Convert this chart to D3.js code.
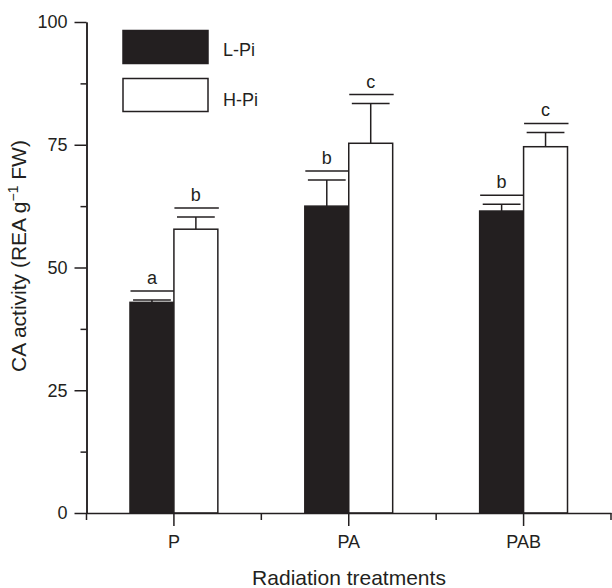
<!DOCTYPE html>
<html>
<head>
<meta charset="utf-8">
<script src="https://cdn.jsdelivr.net/npm/d3@7"></script>
<style>
  body { margin: 0; background: #fff; }
  svg text { font-family: "Liberation Sans", Arial, Helvetica, sans-serif; fill: #231f20; }
  .axis path, .axis line { stroke: #231f20; stroke-width: 1.5px; }
</style>
</head>
<body>
<svg width="612" height="588"></svg>
<script>
// values
var categories = ['P', 'PA', 'PAB'];
var series = ['L-Pi', 'H-Pi'];
var lowPi = [42.9, 62.5, 61.5];
var highPi = [57.8, 75.3, 74.6];
var lowPiErr = [0.5, 5.3, 1.4];
var highPiErr = [2.5, 8.1, 2.9];
var lowPiLetters = ['a', 'b', 'b'];
var highPiLetters = ['b', 'c', 'c'];
var yTicks = [0, 25, 50, 75, 100];
var yMinorTicks = [12.5, 37.5, 62.5, 87.5];

var svg = d3.select('svg');
var ink = '#231f20';

var xScale = d3.scaleBand()
  .domain(categories)
  .range([86.5, 611])
  .padding(0);
var subScale = d3.scaleBand()
  .domain(series)
  .range([0, xScale.bandwidth()])
  .paddingInner(0)
  .paddingOuter(0.99);
var yScale = d3.scaleLinear()
  .domain([0, 100])
  .range([513, 22]);

// rows for the bars
var rows = [];
for (var i = 0; i < categories.length; i++) {
  rows.push({cat: categories[i], key: 'L-Pi', value: lowPi[i], err: lowPiErr[i], letter: lowPiLetters[i]});
  rows.push({cat: categories[i], key: 'H-Pi', value: highPi[i], err: highPiErr[i], letter: highPiLetters[i]});
}

function barX(d) {
  return xScale(d.cat) + subScale(d.key);
}
function barMid(d) {
  return barX(d) + subScale.bandwidth() / 2;
}

var chart = svg.append('g');

// error bars first so the bars sit on top of the stem
var bw = subScale.bandwidth();
chart.selectAll('.stem')
  .data(rows)
  .enter()
  .append('line')
  .attr('x1', barMid)
  .attr('x2', barMid)
  .attr('y1', function(d) { return yScale(d.value); })
  .attr('y2', function(d) { return yScale(d.value + d.err); })
  .style('stroke', ink)
  .style('stroke-width', 1.5);
chart.selectAll('.cap')
  .data(rows)
  .enter()
  .append('line')
  .attr('x1', function(d) { return barMid(d) - bw * 0.43; })
  .attr('x2', function(d) { return barMid(d) + bw * 0.43; })
  .attr('y1', function(d) { return yScale(d.value + d.err); })
  .attr('y2', function(d) { return yScale(d.value + d.err); })
  .style('stroke', ink)
  .style('stroke-width', 1.5);

// significance line + letter
chart.selectAll('.sig')
  .data(rows)
  .enter()
  .append('line')
  .attr('x1', function(d) { return barX(d) + 0.5; })
  .attr('x2', function(d) { return barX(d) + bw + 1; })
  .attr('y1', function(d) { return yScale(d.value + d.err) - 9; })
  .attr('y2', function(d) { return yScale(d.value + d.err) - 9; })
  .style('stroke', ink)
  .style('stroke-width', 1.5);
chart.selectAll('.letter')
  .data(rows)
  .enter()
  .append('text')
  .attr('x', barMid)
  .attr('y', function(d) { return yScale(d.value + d.err) - 16; })
  .attr('text-anchor', 'middle')
  .style('font-size', '18px')
  .text(function(d) { return d.letter; });

chart.selectAll('.bar')
  .data(rows)
  .enter()
  .append('rect')
  .attr('x', barX)
  .attr('y', function(d) { return yScale(d.value); })
  .attr('width', bw)
  .attr('height', function(d) { return yScale(0) - yScale(d.value); })
  .attr('fill', function(d) { return d.key == 'L-Pi' ? ink : '#fff'; })
  .style('stroke', ink)
  .style('stroke-width', 1.5);

// y axis, major + minor ticks
var yAxis = d3.axisLeft(yScale).tickValues(yTicks).tickSize(12).tickPadding(7).tickSizeOuter(0);
var yMinor = d3.axisLeft(yScale).tickValues(yMinorTicks).tickSize(6).tickFormat('').tickSizeOuter(0);
var ya = svg.append('g').attr('class', 'axis')
  .attr('transform', 'translate(86.5,0)')
  .call(yAxis);
svg.append('g').attr('class', 'axis')
  .attr('transform', 'translate(86.5,0)')
  .call(yMinor);
ya.selectAll('text').style('font-size', '18px').style('fill', ink);

// x axis
var xAxis = d3.axisBottom(xScale).tickSize(13).tickPadding(9).tickSizeOuter(0);
var xa = svg.append('g').attr('class', 'axis')
  .attr('transform', 'translate(0,513)')
  .call(xAxis);
xa.selectAll('text').style('font-size', '18px').style('fill', ink);
var edges = categories.map(function(c) { return xScale(c); });
edges.push(xScale(categories[categories.length - 1]) + xScale.bandwidth());
xa.selectAll('.minor')
  .data(edges)
  .enter()
  .append('line')
  .attr('x1', function(d) { return d; })
  .attr('x2', function(d) { return d; })
  .attr('y1', 0)
  .attr('y2', 7);

// axis titles
svg.append('text')
  .attr('x', 349)
  .attr('y', 585)
  .attr('text-anchor', 'middle')
  .style('font-size', '21px')
  .text('Radiation treatments');

var yt = svg.append('text')
  .attr('transform', 'translate(26,256) rotate(-90)')
  .attr('text-anchor', 'middle')
  .style('font-size', '21px');
yt.append('tspan').text('CA activity (REA g');
yt.append('tspan').attr('dy', -8).style('font-size', '14px').text('\u22121');
yt.append('tspan').attr('dy', 8).text(' FW)');

// legend
var legend = svg.append('g');
legend.selectAll('rect')
  .data(series)
  .enter()
  .append('rect')
  .attr('x', 123)
  .attr('y', function(d, i) { return 30.5 + i * 48; })
  .attr('width', 85)
  .attr('height', 33)
  .attr('fill', function(d) { return d == 'L-Pi' ? ink : '#fff'; })
  .style('stroke', ink)
  .style('stroke-width', 1.5);
legend.selectAll('text')
  .data(series)
  .enter()
  .append('text')
  .attr('x', 223)
  .attr('y', function(d, i) { return 56 + i * 50; })
  .style('font-size', '18px')
  .text(function(d) { return d; });
</script>
</body>
</html>
